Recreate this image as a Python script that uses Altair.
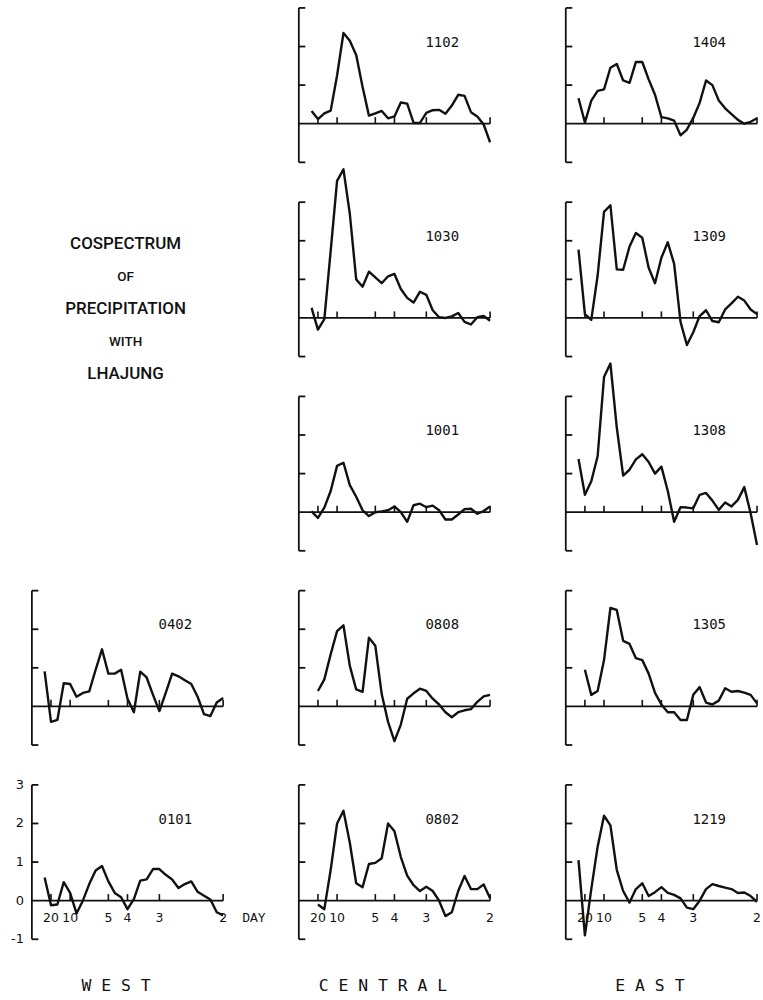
import altair as alt
import pandas as pd

# frequency (cycles/day) of each spectral estimate
FREQ = [0.0333, 0.0500, 0.0667, 0.0833, 0.1000, 0.1167, 0.1333, 0.1500, 0.1667,
        0.1833, 0.2000, 0.2167, 0.2333, 0.2500, 0.2667, 0.2833, 0.3000, 0.3167,
        0.3333, 0.3500, 0.3667, 0.3833, 0.4000, 0.4167, 0.4333, 0.4500, 0.4667,
        0.4833, 0.5000]

S_1102 = [0.33, 0.12, 0.27, 0.34, 1.25, 2.35, 2.15, 1.78, 0.95, 0.21, 0.27, 0.33, 0.14, 0.19, 0.55,
          0.52, 0.02, 0.02, 0.28, 0.35, 0.36, 0.26, 0.47, 0.75, 0.72, 0.30, 0.19, -0.02, -0.48]
S_1030 = [0.26, -0.30, -0.03, 1.74, 3.55, 3.85, 2.70, 1.00, 0.81, 1.20, 1.05, 0.90, 1.08, 1.14, 0.75,
          0.52, 0.40, 0.68, 0.60, 0.20, 0.02, 0.00, 0.04, 0.13, -0.10, -0.17, 0.02, 0.05, -0.07]
S_1001 = [0.02, -0.15, 0.12, 0.55, 1.20, 1.28, 0.70, 0.40, 0.05, -0.10, 0.00, 0.02, 0.05, 0.15, 0.00,
          -0.25, 0.18, 0.22, 0.13, 0.17, 0.05, -0.19, -0.19, -0.06, 0.08, 0.09, -0.04, 0.03, 0.15]
S_0808 = [None, 0.40, 0.70, 1.35, 1.95, 2.10, 1.05, 0.44, 0.38, 1.78, 1.57, 0.32, -0.40, -0.90, -0.47,
          0.20, 0.34, 0.46, 0.40, 0.20, 0.05, -0.15, -0.28, -0.15, -0.10, -0.07, 0.12, 0.26, 0.30]
S_0802 = [None, -0.10, -0.22, 0.80, 2.00, 2.33, 1.50, 0.45, 0.35, 0.95, 0.98, 1.10, 2.00, 1.80, 1.13,
          0.65, 0.40, 0.25, 0.36, 0.25, 0.00, -0.40, -0.30, 0.25, 0.64, 0.30, 0.30, 0.42, 0.06]
S_1404 = [0.66, 0.03, 0.60, 0.85, 0.89, 1.45, 1.55, 1.12, 1.06, 1.60, 1.60, 1.15, 0.75, 0.17, 0.14,
          0.08, -0.30, -0.15, 0.15, 0.54, 1.12, 1.00, 0.60, 0.40, 0.25, 0.10, 0.00, 0.05, 0.14]
S_1309 = [1.77, 0.10, -0.05, 1.10, 2.75, 2.92, 1.26, 1.25, 1.85, 2.20, 2.08, 1.30, 0.90, 1.56, 1.96,
          1.40, -0.10, -0.70, -0.37, 0.05, 0.20, -0.08, -0.11, 0.22, 0.38, 0.55, 0.45, 0.22, 0.10]
S_1308 = [1.38, 0.45, 0.80, 1.45, 3.50, 3.85, 2.20, 0.95, 1.10, 1.37, 1.50, 1.30, 1.00, 1.18, 0.55,
          -0.25, 0.13, 0.12, 0.10, 0.45, 0.50, 0.30, 0.06, 0.25, 0.15, 0.32, 0.65, -0.03, -0.85]
S_1305 = [None, 0.95, 0.30, 0.40, 1.20, 2.55, 2.50, 1.70, 1.62, 1.25, 1.20, 0.85, 0.35, 0.05, -0.15,
          -0.15, -0.35, -0.35, 0.30, 0.50, 0.10, 0.05, 0.15, 0.47, 0.38, 0.40, 0.36, 0.30, 0.08]
S_1219 = [1.05, -0.90, 0.30, 1.40, 2.20, 1.95, 0.80, 0.25, -0.05, 0.30, 0.45, 0.12, 0.22, 0.35, 0.20,
          0.15, 0.06, -0.18, -0.22, 0.00, 0.30, 0.43, 0.38, 0.34, 0.30, 0.20, 0.21, 0.12, -0.03]
S_0402 = [0.91, -0.40, -0.35, 0.60, 0.58, 0.25, 0.35, 0.39, 0.95, 1.48, 0.85, 0.85, 0.95, 0.20, -0.15,
          0.90, 0.75, 0.30, -0.12, 0.35, 0.85, 0.78, 0.68, 0.58, 0.25, -0.20, -0.25, 0.10, 0.22]
S_0101 = [0.60, -0.12, -0.10, 0.48, 0.20, -0.33, 0.00, 0.43, 0.78, 0.90, 0.50, 0.20, 0.09, -0.22, 0.04,
          0.52, 0.55, 0.82, 0.82, 0.67, 0.55, 0.33, 0.43, 0.50, 0.23, 0.13, 0.03, -0.30, -0.38]

X_TICKS = [0.05, 0.1, 0.2, 0.25, 1 / 3, 0.5]
X_TICK_LABELS = ["20", "10", "5", "4", "3", "2"]
X_DOMAIN = [0, 0.5]
Y_DOMAIN = [-1, 3]
Y_TICKS = [-1, 1, 2, 3]
Y_LABELS = [-1, 0, 1, 2, 3]
Y_LABEL_TEXT = ["-1", "0", "1", "2", "3"]
TITLE_LINES = ["COSPECTRUM", "OF", "PRECIPITATION", "WITH", "LHAJUNG"]
TITLE_BIG = [True, False, True, False, True]
COLUMNS = ["W E S T", "C E N T R A L", "E A S T"]

W, H = 192, 155
INK = "#111111"
MONO = "DejaVu Sans Mono"
NARROW = "Roboto"

xs = alt.Scale(domain=X_DOMAIN, nice=False, zero=False)
ys = alt.Scale(domain=Y_DOMAIN, nice=False, zero=False)


def one(**kw):
    return pd.DataFrame({k: [v] for k, v in kw.items()})


def panel(name, values, bottom=False, ylabels=False, column=None, day=False):
    df = pd.DataFrame({"f": FREQ, "v": values}).dropna()
    X0 = alt.XDatum(0, scale=xs, axis=None)

    bracket = alt.Chart(one(y0=Y_DOMAIN[0], y1=Y_DOMAIN[1])).mark_rule(
        color=INK, strokeWidth=1.8).encode(
        x=X0, y=alt.Y("y0:Q", scale=ys, axis=None), y2="y1:Q")
    yt = alt.Chart(pd.DataFrame({"y": Y_TICKS})).mark_rule(
        color=INK, strokeWidth=1.8).encode(
        x=X0, x2=alt.X2Datum(0.017), y=alt.Y("y:Q", scale=ys, axis=None))
    zero = alt.Chart(one(x0=X_DOMAIN[0], x1=X_DOMAIN[1], y=0)).mark_rule(
        color=INK, strokeWidth=1.8).encode(
        x=alt.X("x0:Q", scale=xs, axis=None), x2="x1:Q", y=alt.Y("y:Q", scale=ys, axis=None))
    xt = alt.Chart(pd.DataFrame({"f": X_TICKS})).mark_rule(
        color=INK, strokeWidth=1.6).encode(
        x=alt.X("f:Q", scale=xs, axis=None),
        y=alt.YDatum(0, scale=ys, axis=None), y2=alt.Y2Datum(0.17))
    line = alt.Chart(df).mark_line(color=INK, strokeWidth=2.4, strokeJoin="round").encode(
        x=alt.X("f:Q", scale=xs, axis=None),
        y=alt.Y("v:Q", scale=ys, axis=None))
    label = alt.Chart(one(name=name)).mark_text(
        font=MONO, fontSize=14, color=INK).encode(
        x=alt.XDatum(0.375, scale=xs, axis=None),
        y=alt.YDatum(2.1, scale=ys, axis=None), text="name:N")

    layers = [bracket, yt, zero, xt, line, label]
    if ylabels:
        layers.append(alt.Chart(pd.DataFrame({"y": Y_LABELS, "t": Y_LABEL_TEXT})).mark_text(
            font="DejaVu Sans", fontSize=13, color=INK, align="right", baseline="middle",
            dx=-8).encode(
            x=X0, y=alt.Y("y:Q", scale=ys, axis=None), text="t:N"))
    if bottom:
        layers.append(alt.Chart(pd.DataFrame({"f": X_TICKS, "t": X_TICK_LABELS})).mark_text(
            font="DejaVu Sans", fontSize=12.5, color=INK, baseline="middle").encode(
            x=alt.X("f:Q", scale=xs, axis=None),
            y=alt.YDatum(-0.45, scale=ys, axis=None), text="t:N"))
    if day:
        layers.append(alt.Chart(one(t="DAY")).mark_text(
            font="Liberation Mono", fontSize=13, color=INK, align="left", baseline="middle").encode(
            x=alt.XDatum(0.55, scale=xs, axis=None),
            y=alt.YDatum(-0.45, scale=ys, axis=None), text="t:N"))
    if column:
        layers.append(alt.Chart(one(t=column)).mark_text(
            font=MONO, fontSize=16.5, color=INK, baseline="middle").encode(
            x=alt.XDatum(0.22, scale=xs, axis=None),
            y=alt.YDatum(-2.2, scale=ys, axis=None), text="t:N"))
    return alt.layer(*layers).properties(width=W, height=H)


def blank():
    return alt.Chart(one(t="")).mark_text(color=INK).encode(
        x=alt.XDatum(0, scale=xs, axis=None), text="t:N").properties(width=W, height=H)


title_df = pd.DataFrame({"i": list(range(len(TITLE_LINES))), "line": TITLE_LINES, "big": TITLE_BIG})
title_chart = alt.Chart(title_df).mark_text(font=NARROW, color=INK, baseline="middle",
                                            fontWeight=500).encode(
    x=alt.XDatum(0.245, scale=xs, axis=None),
    y=alt.Y("i:Q", scale=alt.Scale(domain=[0, 4], range=[42, 173]), axis=None),
    text="line:N",
    size=alt.condition("datum.big", alt.value(17), alt.value(13.5)),
).properties(width=W, height=H)

cells = [
    blank(), panel("1102", S_1102), panel("1404", S_1404),
    title_chart, panel("1030", S_1030), panel("1309", S_1309),
    blank(), panel("1001", S_1001), panel("1308", S_1308),
    panel("0402", S_0402), panel("0808", S_0808), panel("1305", S_1305),
    panel("0101", S_0101, bottom=True, ylabels=True, column=COLUMNS[0], day=True),
    panel("0802", S_0802, bottom=True, column=COLUMNS[1]),
    panel("1219", S_1219, bottom=True, column=COLUMNS[2]),
]

chart = alt.concat(*cells, columns=3, spacing={"row": 40, "column": 76}, bounds="flush").properties(
    padding={"left": 11, "top": 5, "right": 2, "bottom": 2},
    background="white",
).configure_view(strokeWidth=0)

chart.save("out.html", embed_options={"renderer": "svg", "actions": False})
